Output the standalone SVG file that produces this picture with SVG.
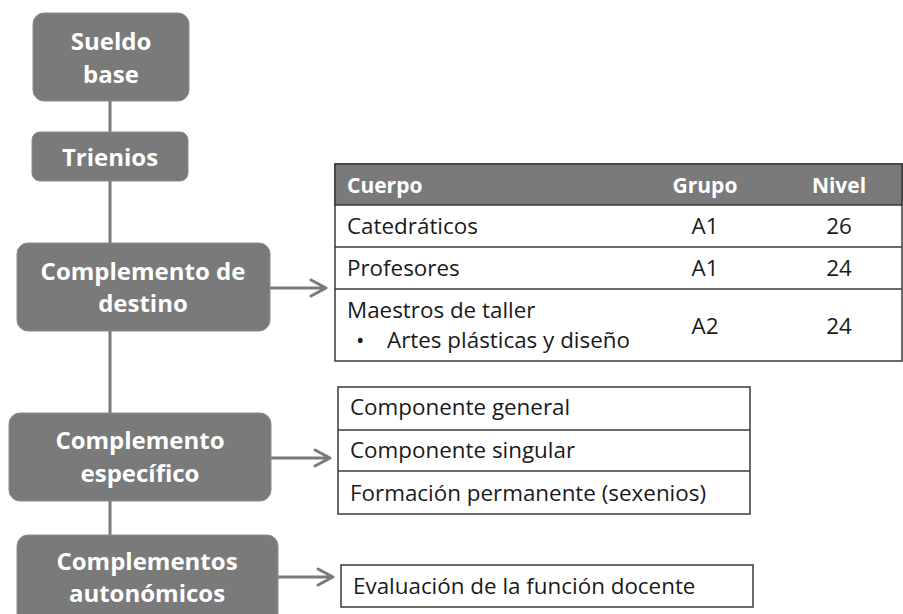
<svg xmlns="http://www.w3.org/2000/svg" width="903" height="614" viewBox="0 0 903 614">
<defs>
<style>
.box{fill:#7a7a7a;stroke:#8c8c8c;stroke-width:1}
.nt{font-family:"Open Sans","Liberation Sans",sans-serif;font-weight:bold;font-size:24px;fill:#ffffff;text-anchor:middle}
.conn{stroke:#7a7a7a;stroke-width:3;fill:none}
.arr{stroke:#7a7a7a;stroke-width:3;fill:none;stroke-linecap:round;stroke-linejoin:round}
.tb{fill:#ffffff;stroke:#3a3a3a;stroke-width:1.5}
.hd{fill:#7a7a7a;stroke:#3a3a3a;stroke-width:1.5}
.ln{stroke:#3a3a3a;stroke-width:1.5}
.tt{font-family:"Open Sans","Liberation Sans",sans-serif;font-size:22.4px;fill:#1a1a1a}
.th{font-family:"Open Sans","Liberation Sans",sans-serif;font-size:21px;font-weight:bold;fill:#ffffff}
.c{text-anchor:middle}
</style>
</defs>
<rect width="903" height="614" fill="#ffffff"/>
<g id="connectors">
<line class="conn" x1="110" y1="101" x2="110" y2="132"/>
<line class="conn" x1="110" y1="181" x2="110" y2="243"/>
<line class="conn" x1="110" y1="331" x2="110" y2="413"/>
<line class="conn" x1="110" y1="501" x2="110" y2="535"/>
<path class="arr" d="M270,288 H325 M311,280 L326,288 L311,296"/>
<path class="arr" d="M271,458 H329 M315,450 L330,458 L315,466"/>
<path class="arr" d="M278,577 H332 M318,569 L333,577 L318,585"/>
</g>
<g id="sueldo-base">
<rect class="box" x="33" y="13" width="156" height="88" rx="11"/>
<text class="nt" x="111" y="50">Sueldo</text>
<text class="nt" x="111" y="83">base</text>
</g>
<g id="trienios">
<rect class="box" x="32" y="132" width="156" height="49" rx="8"/>
<text class="nt" x="110" y="166">Trienios</text>
</g>
<g id="complemento-destino">
<rect class="box" x="17" y="243" width="253" height="88" rx="11"/>
<text class="nt" x="143" y="280">Complemento de</text>
<text class="nt" x="143" y="312">destino</text>
</g>
<g id="complemento-especifico">
<rect class="box" x="9" y="413" width="262" height="88" rx="11"/>
<text class="nt" x="140" y="449">Complemento</text>
<text class="nt" x="140" y="482">específico</text>
</g>
<g id="complementos-autonomicos">
<rect class="box" x="17" y="535" width="261" height="90" rx="11"/>
<text class="nt" x="147" y="570">Complementos</text>
<text class="nt" x="147" y="602">autonómicos</text>
</g>
<g id="tabla-destino">
<rect class="tb" x="335" y="164" width="567" height="197"/>
<rect class="hd" x="335" y="164" width="567" height="41"/>
<line class="ln" x1="335" y1="247" x2="902" y2="247"/>
<line class="ln" x1="335" y1="289" x2="902" y2="289"/>
<text class="th" x="347" y="193">Cuerpo</text>
<text class="th c" x="705" y="193">Grupo</text>
<text class="th c" x="839" y="193">Nivel</text>
<text class="tt" x="347" y="234">Catedráticos</text>
<text class="tt c" x="705" y="234">A1</text>
<text class="tt c" x="839" y="234">26</text>
<text class="tt" x="347" y="276">Profesores</text>
<text class="tt c" x="705" y="276">A1</text>
<text class="tt c" x="839" y="276">24</text>
<text class="tt" x="347" y="318">Maestros de taller</text>
<text class="tt" x="356" y="348">•</text>
<text class="tt" x="387" y="348">Artes plásticas y diseño</text>
<text class="tt c" x="705" y="334">A2</text>
<text class="tt c" x="839" y="334">24</text>
</g>
<g id="tabla-especifico">
<rect class="tb" x="338" y="387" width="412" height="127"/>
<line class="ln" x1="338" y1="430" x2="750" y2="430"/>
<line class="ln" x1="338" y1="471" x2="750" y2="471"/>
<text class="tt" x="350" y="415">Componente general</text>
<text class="tt" x="350" y="458">Componente singular</text>
<text class="tt" x="350" y="501">Formación permanente (sexenios)</text>
</g>
<g id="tabla-autonomicos">
<rect class="tb" x="341" y="565" width="412" height="42"/>
<text class="tt" x="353" y="594">Evaluación de la función docente</text>
</g>
</svg>
